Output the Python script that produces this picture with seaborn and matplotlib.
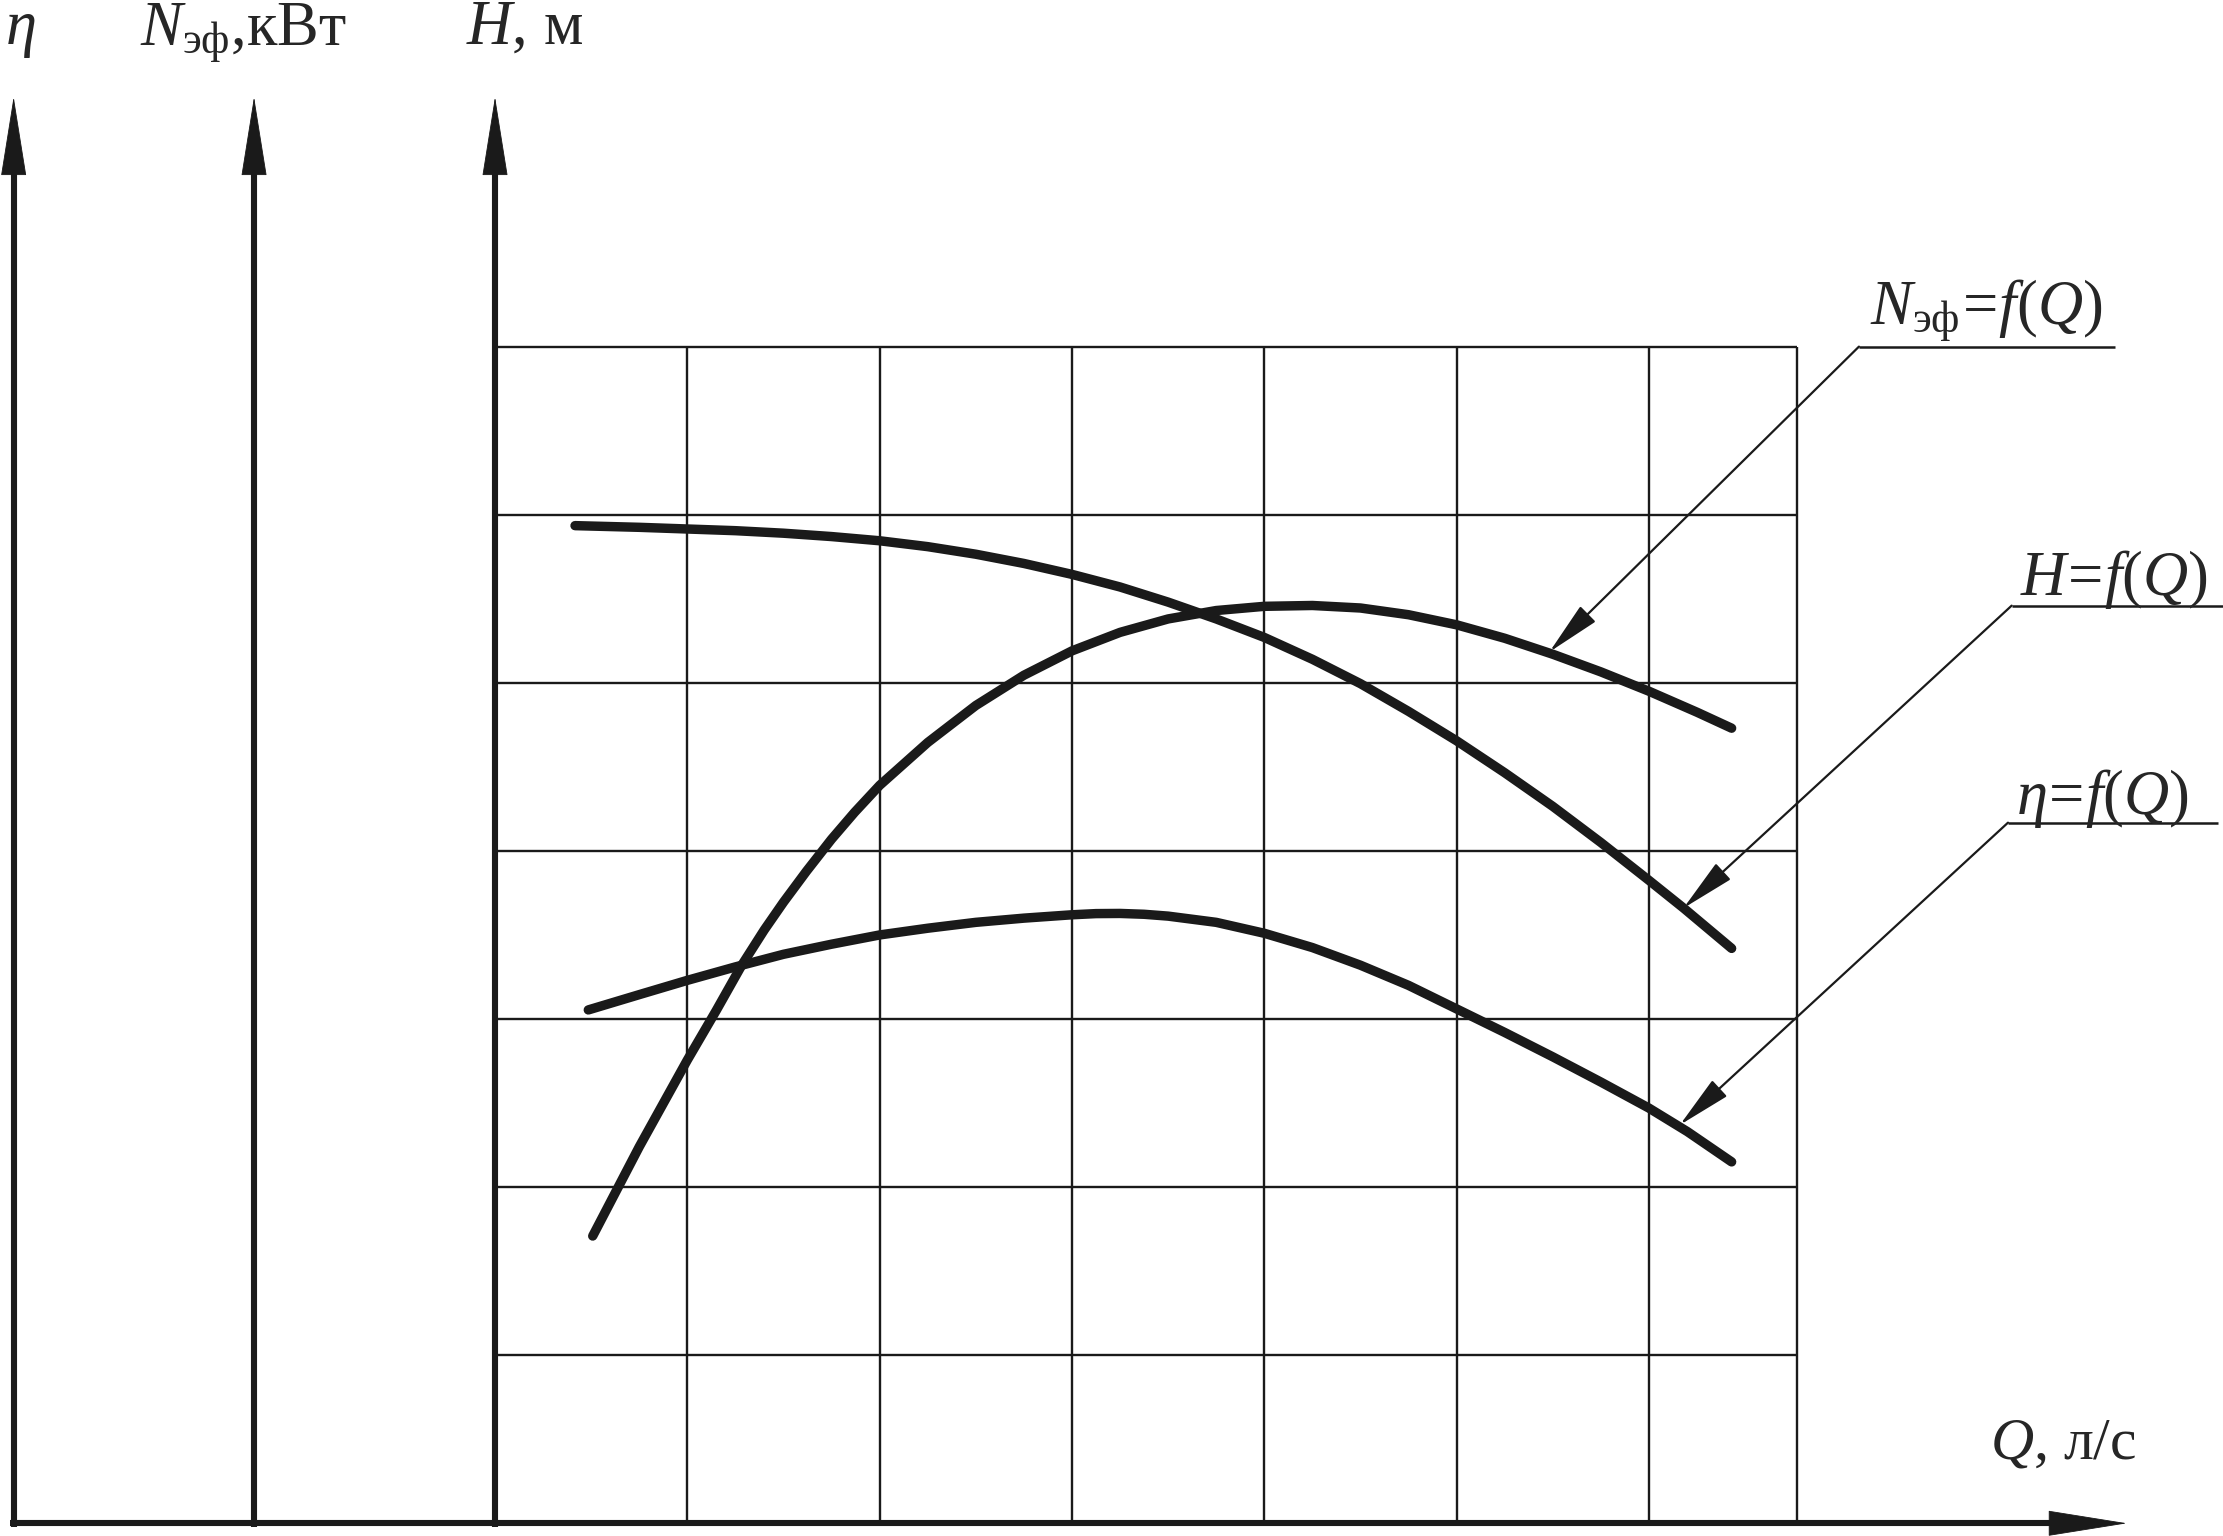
import numpy as np
import pandas as pd
import matplotlib
matplotlib.use("Agg")
import matplotlib.pyplot as plt
import seaborn as sns

# ---- data (grid units: Q measured from the H axis, values from the Q axis) ----
q_h = [0.416, 0.75, 1.0, 1.25, 1.5, 1.75, 2.0, 2.25, 2.5, 2.75, 3.0, 3.25, 3.5, 3.75,
       4.0, 4.25, 4.5, 4.75, 5.0, 5.25, 5.5, 5.75, 6.0, 6.18, 6.43]
h_vals = [5.935, 5.925, 5.915, 5.905, 5.89, 5.87, 5.845, 5.81, 5.765, 5.71, 5.645, 5.57,
          5.48, 5.38, 5.27, 5.14, 4.995, 4.83, 4.655, 4.465, 4.265, 4.05, 3.825, 3.66, 3.42]

q_n = [0.508, 0.75, 1.0, 1.15, 1.283, 1.4, 1.5, 1.62, 1.75, 1.87, 2.0, 2.25, 2.5, 2.75,
       3.0, 3.25, 3.5, 3.75, 4.0, 4.25, 4.5, 4.75, 5.0, 5.25, 5.5, 5.75, 6.0, 6.25, 6.43]
n_vals = [1.709, 2.24, 2.756, 3.05, 3.32, 3.53, 3.695, 3.88, 4.07, 4.23, 4.39, 4.645, 4.865,
          5.045, 5.19, 5.30, 5.38, 5.43, 5.455, 5.46, 5.445, 5.405, 5.345, 5.265, 5.17,
          5.065, 4.95, 4.825, 4.73]

q_eta = [0.485, 0.75, 1.0, 1.25, 1.5, 1.75, 2.0, 2.25, 2.5, 2.75, 3.0, 3.125, 3.25, 3.375,
         3.5, 3.75, 4.0, 4.25, 4.5, 4.75, 5.0, 5.25, 5.5, 5.75, 6.0, 6.2, 6.43]
eta_vals = [3.054, 3.145, 3.23, 3.31, 3.385, 3.445, 3.50, 3.54, 3.575, 3.60, 3.62, 3.627,
            3.628, 3.623, 3.612, 3.575, 3.51, 3.425, 3.32, 3.20, 3.06, 2.92, 2.775, 2.625,
            2.47, 2.33, 2.15]

curve_labels = [r"$\mathit{N}_{\mathrm{эф}}\!\mathit{=}\!\mathit{f(Q)}$",
                r"$\mathit{H}\!\mathit{=}\!\mathit{f(Q)}$",
                r"$\mathit{\eta}\!\mathit{=}\!\mathit{f(Q)}$"]
axis_labels = [r"$\eta$", r"$N_{\mathrm{эф}}$,кВт", r"$H$, м", r"$Q$, л/с"]

df = pd.concat([
    pd.DataFrame({"Q": q_n, "val": n_vals, "curve": "N"}),
    pd.DataFrame({"Q": q_h, "val": h_vals, "curve": "H"}),
    pd.DataFrame({"Q": q_eta, "val": eta_vals, "curve": "eta"}),
], ignore_index=True)

sns.set_theme(style="white")
plt.rcParams["font.family"] = ["Liberation Serif", "DejaVu Serif"]
plt.rcParams["mathtext.fontset"] = "custom"
plt.rcParams["mathtext.rm"] = "Liberation Serif"
plt.rcParams["mathtext.it"] = "Liberation Serif:italic"
plt.rcParams["mathtext.bf"] = "Liberation Serif:bold"

fig = plt.figure(figsize=(22.23, 15.36), dpi=100)
ax = fig.add_axes([0, 0, 1, 1])
ax.set_xlim(-2.574, 8.985)
ax.set_ylim(-0.0756, 9.062)
ax.axis("off")

# grid
grid_right = 6.768
for i in range(1, 7):
    ax.vlines(i, 0, 7, color="k", lw=1.7)
ax.vlines(grid_right, 0, 7, color="k", lw=1.7)
for j in range(1, 8):
    ax.hlines(j, 0, grid_right, color="k", lw=1.7)

# curves
sns.lineplot(data=df, x="Q", y="val", units="curve", estimator=None, sort=False,
             color="k", linewidth=6.8, solid_capstyle="round", solid_joinstyle="round",
             legend=False, ax=ax)

# axes with arrows
axis_x = [-2.503, -1.253, 0.0]
tip_y = 8.485
tip_x = 8.485
head = dict(arrowstyle="-|>,head_length=0.75,head_width=0.12", lw=0.6, color="k",
            mutation_scale=72, shrinkA=0, shrinkB=0)
for x0 in axis_x:
    ax.vlines(x0, -0.02, tip_y - 0.3, color="k", lw=4.4)
    ax.annotate("", xy=(x0, tip_y), xytext=(x0, tip_y - 0.6), arrowprops=head)
ax.hlines(0, -2.52, tip_x - 0.2, color="k", lw=4.4)
ax.annotate("", xy=(tip_x, 0), xytext=(tip_x - 0.6, 0), arrowprops=head)

# leaders
small = dict(arrowstyle="-|>,head_length=0.85,head_width=0.17", lw=1.6, color="k",
             mutation_scale=40, shrinkA=0, shrinkB=0)
leaders = [((7.092, 7.0), (5.483, 5.184), 8.423),
           ((7.886, 5.459), (6.18, 3.66), 8.985),
           ((7.867, 4.168), (6.161, 2.37), 8.959)]
for (start, tip, xend) in leaders:
    ax.hlines(start[1], start[0], xend, color="k", lw=1.8)
    ax.annotate("", xy=tip, xytext=start, arrowprops=small)

fs = 45
ax.text(7.149, 7.14, curve_labels[0], fontsize=fs, ha="left", va="baseline")
ax.text(7.93, 5.52, curve_labels[1], fontsize=fs, ha="left", va="baseline")
ax.text(7.91, 4.22, curve_labels[2], fontsize=fs, ha="left", va="baseline")

ax.text(-2.55, 8.80, axis_labels[0], fontsize=fs, ha="left", va="baseline")
ax.text(-1.846, 8.80, axis_labels[1], fontsize=fs, ha="left", va="baseline")
ax.text(-0.151, 8.80, axis_labels[2], fontsize=fs, ha="left", va="baseline")
ax.text(7.773, 0.388, axis_labels[3], fontsize=43, ha="left", va="baseline")

fig.savefig("out.png", dpi=100, facecolor="white")
